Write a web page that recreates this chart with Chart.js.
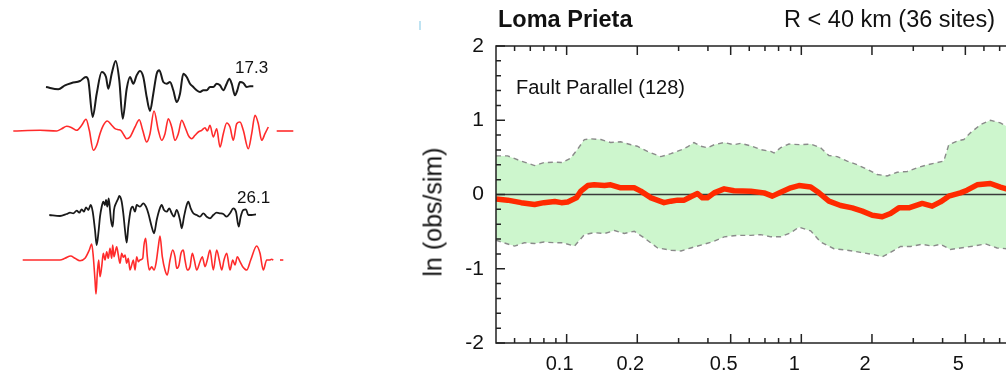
<!DOCTYPE html>
<html>
<head>
<meta charset="utf-8">
<script src="https://cdn.jsdelivr.net/npm/chart.js@4.4.1/dist/chart.umd.min.js"></script>
<style>
  html, body { margin: 0; padding: 0; background: #fff; }
  #page { position: relative; width: 1006px; height: 374px; overflow: hidden; background: #fff;
    font-family: "Liberation Sans", Arial, Helvetica, sans-serif; color: #111; }
  .abs { position: absolute; white-space: nowrap; }
  canvas { position: absolute; }
</style>
</head>
<body>
<div id="page">
  <canvas id="trace1Obs" width="300" height="90" style="left:0;top:41.7px"></canvas>
  <canvas id="trace1Sim" width="300" height="90" style="left:0;top:85.7px"></canvas>
  <canvas id="trace2Obs" width="300" height="90" style="left:0;top:170px"></canvas>
  <canvas id="trace2Sim" width="300" height="90" style="left:0;top:215px"></canvas>
  <div class="abs" style="left:235px;top:58.6px;font-size:17px;line-height:17px">17.3</div>
  <div class="abs" style="left:237px;top:188.6px;font-size:17px;line-height:17px">26.1</div>

  <div class="abs" style="left:419px;top:21px;width:2px;height:9px;background:#bfe3f2"></div>
  <canvas id="ratio" width="640" height="374" style="left:400px;top:0"></canvas>
  <div class="abs" style="left:498px;top:8px;font-size:23.5px;line-height:23.5px;font-weight:bold">Loma Prieta</div>
  <div class="abs" style="right:11px;top:8px;font-size:23.5px;line-height:23.5px">R &lt; 40 km (36 sites)</div>
  <div class="abs" style="left:516px;top:77px;font-size:20px;line-height:20px">Fault Parallel (128)</div>
  <div class="abs" style="left:433px;top:212px;font-size:25px;line-height:25px;transform:translate(-50%,-50%) rotate(-90deg)">ln (obs/sim)</div>
</div>
<script>
// ---- seismograms (time in s, amplitude in arbitrary units) ----
const trace1ObsT = [4.6,5.83,6.5,7.17,8.0,8.6,8.83,9.27,9.67,10.17,10.6,10.83,11.17,11.57,11.93,12.27,12.67,13.0,13.33,13.67,14.0,14.33,14.67,15.0,15.33,15.67,15.93,16.33,16.67,17.0,17.33,17.67,18.0,18.33,18.67,19.0,19.33,19.67,20.0,20.33,20.67,21.0,21.33,21.67,22.0,22.33,22.67,22.93,23.17,23.5,23.73,24.0,24.33,24.67,25.0,25.33];
const trace1ObsA = [0,-2.3,1.7,4,6,10,6.7,-30,-6.7,15,10,-1.7,13.3,26,6.7,-31.7,-1.7,10,3.3,11.7,16,10,-10,-24,-6.7,13.3,16.7,5,3.3,5,-3.3,-15,-6.7,13.3,10,3.3,0,-3.3,-5,-3.3,-3.3,0,0,3.3,1.7,-3.3,3.3,8.3,3.3,-8.3,-3.3,5,4,0,0.7,0.7];
const trace1SimT = [1.33,4.0,5.67,6.17,6.67,7.17,7.67,8.17,8.6,8.93,9.33,9.67,10.0,10.33,10.73,11.17,11.5,11.83,12.07,12.4,12.67,13.0,13.5,13.93,14.27,14.67,15.0,15.4,15.83,16.17,16.5,16.83,17.17,17.5,17.83,18.17,18.5,18.83,19.17,19.5,19.83,20.17,20.5,20.73,21.0,21.33,21.67,22.0,22.33,22.67,23.0,23.33,23.67,24.0,24.33,24.83,25.17,25.5,25.83,26.17,26.5,26.83];
const trace1SimA = [0,0.7,0,2.3,4.7,3.3,0.7,5.7,11.7,0.7,-19.3,-14.3,-2.7,5.7,10,5.7,2.3,1.3,0.7,-4.3,-7.7,-6,4,11.3,0.7,-11,-2.7,20,0.7,-9.3,-2.7,12.3,4,-9.3,-2.7,10.7,4,-4.3,-7.7,-4.3,-1,0.7,3.3,0,5.7,-6,2.3,-16,-2.7,8,4,-9.3,7.3,9,0.7,-17.7,-2.7,15.7,7.3,-9.3,-2.7,4];
const trace1TailT = [27.67, 29.33];
const trace1TailA = [0, 0];

const trace2ObsT = [4.93,6.0,6.67,7.0,7.33,7.67,7.93,8.17,8.4,8.6,8.83,9.07,9.27,9.5,9.67,9.87,10.0,10.17,10.33,10.5,10.6,10.73,10.87,11.0,11.1,11.27,11.4,11.6,11.83,11.93,12.17,12.33,12.5,12.67,12.83,13.07,13.27,13.5,13.67,14.0,14.33,14.6,14.83,15.17,15.4,15.67,15.93,16.17,16.4,16.67,16.93,17.17,17.4,17.67,18.0,18.17,18.4,18.67,18.83,19.07,19.33,19.67,20.0,20.33,20.67,21.0,21.33,21.67,22.0,22.33,22.67,23.0,23.33,23.6,23.87,24.07,24.33,24.6,24.83,25.17,25.6];
const trace2ObsA = [0,-1,1,2.3,1.7,4.3,2.3,5.7,3.3,7.7,5,10,3.3,-15,-30,-15,-1.7,8.3,13.3,10,15,8.3,16.7,5,-5,-11.7,5,11.7,16.7,19,13.3,1.7,-15,-27.7,-11.7,5,8.3,3.3,10,8.3,11.7,8.3,1.7,-11.7,-18.3,-5,5,10,5,3.3,6.7,1.7,-1.7,5,-5,-13.3,-1.7,10,13.3,6.7,1.7,0,-1.7,1.7,-1.7,-3.3,0,2.3,1.7,1,-1.7,1.7,6.7,3.3,-11.7,-1.7,5,5.7,0,0,0.7];
const trace2SimT = [2.27,6.0,6.5,7.07,7.5,8.0,8.5,8.93,9.17,9.33,9.5,9.6,9.73,9.87,10.0,10.17,10.33,10.5,10.67,10.83,11.0,11.17,11.27,11.4,11.5,11.67,11.83,12.0,12.17,12.33,12.5,12.67,12.83,13.0,13.17,13.33,13.5,13.67,13.83,14.0,14.27,14.4,14.57,14.73,14.93,15.17,15.4,15.6,15.83,16.0,16.23,16.5,16.73,17.0,17.27,17.5,17.67,17.9,18.1,18.33,18.5,18.73,19.0,19.23,19.43,19.67,20.0,20.23,20.5,20.73,21.0,21.33,21.67,21.93,22.17,22.4,22.67,23.0,23.27,23.5,23.73,24.0,24.27,24.67,25.07,25.67,26.0,26.33,26.67,26.93,27.17,27.33];
const trace2SimA = [0,0,1.7,4,1.7,-0.7,1.7,10,16,3.3,-20,-34,-13.3,0,-16.7,-6.7,6.7,0,8.3,1.7,11.7,1.7,15,3.3,6.7,13.3,5,-3.3,6.7,2.7,5,-3.3,1.7,-10,-5,0,-10,3.3,-1.7,0,1.7,15,21.7,3.3,-10,-6.7,-10,-3.3,13.3,24,3.3,-10,-15,0,10,3.3,-8.3,-5,6.7,10,0,-10,-6.7,6.7,0,-10,-1.7,3.3,-6.7,0,10,-10,10,0,-10,0,6.7,-10,0,-5,3.3,-1.7,-6.7,-10,0,14,6.7,-10,0,0,0.7,0];
const trace2TailT = [28.0, 28.33];
const trace2TailA = [0, 0];

// ---- ln(obs/sim) vs frequency (Hz) ----
const upperFreq = [0.05,0.056,0.064,0.073,0.080,0.089,0.096,0.104,0.111,0.119,0.127,0.140,0.154,0.170,0.188,0.200,0.221,0.252,0.278,0.307,0.327,0.349,0.373,0.398,0.425,0.469,0.517,0.552,0.609,0.671,0.741,0.765,0.817,0.886,0.994,1.096,1.208,1.311,1.423,1.569,1.731,1.909,2.106,2.323,2.562,2.826,3.116,3.438,3.79,4.046,4.249,4.612,4.922,5.255,5.797,6.392,7.05,7.478,8.0];
const upperVal  = [0.52,0.52,0.45,0.39,0.43,0.435,0.43,0.49,0.605,0.74,0.75,0.74,0.70,0.71,0.67,0.65,0.58,0.51,0.55,0.60,0.64,0.70,0.65,0.63,0.67,0.70,0.67,0.69,0.655,0.605,0.58,0.56,0.63,0.68,0.67,0.68,0.63,0.525,0.51,0.45,0.40,0.34,0.27,0.25,0.30,0.31,0.36,0.40,0.43,0.45,0.67,0.72,0.74,0.83,0.94,1.0,0.965,0.92,0.88];
const lowerFreq = [0.05,0.054,0.060,0.066,0.073,0.080,0.089,0.096,0.108,0.119,0.131,0.145,0.160,0.176,0.194,0.214,0.244,0.278,0.307,0.338,0.385,0.425,0.469,0.534,0.609,0.671,0.741,0.817,0.901,0.977,1.096,1.208,1.377,1.569,1.788,2.038,2.212,2.399,2.647,2.919,3.273,3.61,3.916,4.319,4.764,5.429,6.086,6.823,7.478,8.0];
const lowerVal  = [-0.615,-0.65,-0.695,-0.65,-0.66,-0.64,-0.65,-0.65,-0.695,-0.54,-0.515,-0.525,-0.485,-0.525,-0.495,-0.585,-0.72,-0.75,-0.76,-0.72,-0.67,-0.63,-0.57,-0.55,-0.55,-0.54,-0.57,-0.57,-0.515,-0.44,-0.49,-0.64,-0.73,-0.75,-0.78,-0.81,-0.84,-0.78,-0.70,-0.70,-0.67,-0.695,-0.67,-0.74,-0.72,-0.695,-0.665,-0.72,-0.73,-0.73];
const medianFreq = [0.05,0.056,0.064,0.073,0.080,0.089,0.095,0.101,0.110,0.115,0.123,0.131,0.145,0.154,0.170,0.194,0.207,0.229,0.260,0.278,0.297,0.317,0.338,0.361,0.379,0.398,0.425,0.469,0.517,0.609,0.694,0.753,0.817,0.901,0.977,1.096,1.189,1.311,1.470,1.648,1.818,2.005,2.212,2.399,2.604,2.872,3.273,3.61,3.916,4.249,4.764,5.086,5.61,6.392,7.05,7.478,8.0];
const medianVal  = [-0.06,-0.076,-0.11,-0.135,-0.11,-0.094,-0.11,-0.10,-0.045,0.045,0.12,0.13,0.12,0.13,0.09,0.09,0.045,-0.045,-0.11,-0.09,-0.076,-0.076,-0.03,0.013,-0.045,-0.045,0.022,0.076,0.05,0.045,0.022,-0.022,0.031,0.09,0.12,0.10,0.022,-0.09,-0.148,-0.18,-0.224,-0.28,-0.30,-0.256,-0.18,-0.18,-0.12,-0.157,-0.10,-0.022,0.022,0.058,0.13,0.148,0.10,0.076,0.06];

const xTickLabels = [0.1, 0.2, 0.5, 1, 2, 5];
const xMajorTicks = [0.1, 0.2, 0.5, 1, 2, 5, 10];
const xMinorTicks = [0.06,0.07,0.08,0.09,0.3,0.4,0.6,0.7,0.8,0.9,3,4,6,7,8,9];
const yTickLabels = [-2, -1, 0, 1, 2];

function zip(xs, ys) {
  return xs.map((x, i) => ({ x, y: ys[i] }));
}

function traceChart(id, sets) {
  return new Chart(document.getElementById(id), {
    type: 'line',
    data: {
      datasets: sets.map(s => ({
        data: zip(s.t, s.a),
        borderColor: s.color,
        borderWidth: s.width,
        pointRadius: 0,
        cubicInterpolationMode: 'monotone',
        fill: false,
        clip: false,
      }))
    },
    options: {
      responsive: false,
      animation: false,
      events: [],
      layout: { padding: 0 },
      plugins: { legend: { display: false }, tooltip: { enabled: false } },
      scales: {
        x: { type: 'linear', min: 0, max: 30, display: false },
        y: { min: -45, max: 45, display: false },
      }
    }
  });
}

const BLACK = '#1a1a1a';
const RED = '#ff2b2b';
traceChart('trace1Obs', [{ t: trace1ObsT, a: trace1ObsA, color: BLACK, width: 2 }]);
traceChart('trace1Sim', [
  { t: trace1SimT, a: trace1SimA, color: RED, width: 1.6 },
  { t: trace1TailT, a: trace1TailA, color: RED, width: 1.6 },
]);
traceChart('trace2Obs', [{ t: trace2ObsT, a: trace2ObsA, color: BLACK, width: 1.8 }]);
traceChart('trace2Sim', [
  { t: trace2SimT, a: trace2SimA, color: RED, width: 1.6 },
  { t: trace2TailT, a: trace2TailA, color: RED, width: 1.6 },
]);

// frame with inward ticks + zero line drawn under the median curve
const frameTicks = {
  id: 'frameTicks',
  beforeDatasetDraw(chart, args) {
    if (args.index !== 2) return;
    const { ctx, chartArea: a, scales: { y } } = chart;
    const py = y.getPixelForValue(0);
    ctx.save();
    ctx.strokeStyle = '#3a3a3a';
    ctx.lineWidth = 1.5;
    ctx.beginPath();
    ctx.moveTo(a.left, py);
    ctx.lineTo(a.right, py);
    ctx.stroke();
    ctx.restore();
  },
  afterDraw(chart) {
    const { ctx, chartArea: a, scales: { x, y } } = chart;
    ctx.save();
    ctx.strokeStyle = '#222';
    ctx.lineWidth = 1.5;
    ctx.strokeRect(a.left, a.top, a.right - a.left, a.bottom - a.top);
    ctx.beginPath();
    const xTick = (v, len) => {
      const px = x.getPixelForValue(v);
      ctx.moveTo(px, a.bottom); ctx.lineTo(px, a.bottom - len);
      ctx.moveTo(px, a.top); ctx.lineTo(px, a.top + len);
    };
    xMajorTicks.forEach(v => xTick(v, 9));
    xMinorTicks.forEach(v => xTick(v, 5));
    for (let k = -10; k <= 10; k++) {
      const v = k / 5;
      const len = k % 5 === 0 ? 9 : 5;
      const py = y.getPixelForValue(v);
      ctx.moveTo(a.left, py); ctx.lineTo(a.left + len, py);
      ctx.moveTo(a.right, py); ctx.lineTo(a.right - len, py);
    }
    ctx.stroke();
    ctx.restore();
  }
};

new Chart(document.getElementById('ratio'), {
  type: 'line',
  data: {
    datasets: [
      {
        data: zip(upperFreq, upperVal),
        borderColor: '#8a8a8a', borderWidth: 1.4, borderDash: [5, 4],
        backgroundColor: '#cdf6cd', fill: '+1',
        pointRadius: 0, tension: 0, order: 2,
      },
      {
        data: zip(lowerFreq, lowerVal),
        borderColor: '#8a8a8a', borderWidth: 1.4, borderDash: [5, 4],
        fill: false, pointRadius: 0, tension: 0, order: 1,
      },
      {
        data: zip(medianFreq, medianVal),
        borderColor: '#ff2a00', borderWidth: 5.5, borderJoinStyle: 'round',
        fill: false, pointRadius: 0, tension: 0, order: 0,
      },
    ]
  },
  options: {
    responsive: false,
    animation: false,
    events: [],
    layout: { padding: { top: 46, right: 4, left: 0, bottom: 0 } },
    plugins: {
      legend: { display: false },
      tooltip: { enabled: false },
      filler: { drawTime: 'beforeDatasetsDraw' },
    },
    scales: {
      x: {
        type: 'logarithmic', min: 0.05, max: 10,
        afterBuildTicks: s => { s.ticks = xTickLabels.map(v => ({ value: v })); },
        afterFit: s => { s.height = 31; },
        grid: { display: false, drawTicks: false },
        border: { display: false },
        ticks: {
          color: '#111', padding: 9, maxRotation: 0, autoSkip: false, labelOffset: -7,
          font: { family: '"Liberation Sans", Arial, sans-serif', size: 20 },
          callback: v => String(v),
        },
      },
      y: {
        min: -2, max: 2,
        afterBuildTicks: s => { s.ticks = yTickLabels.map(v => ({ value: v })); },
        afterFit: s => { s.width = 96; },
        grid: { display: false, drawTicks: false },
        border: { display: false },
        ticks: {
          color: '#111', padding: 12,
          font: { family: '"Liberation Sans", Arial, sans-serif', size: 21 },
        },
      },
    }
  },
  plugins: [frameTicks]
});
</script>
</body>
</html>
